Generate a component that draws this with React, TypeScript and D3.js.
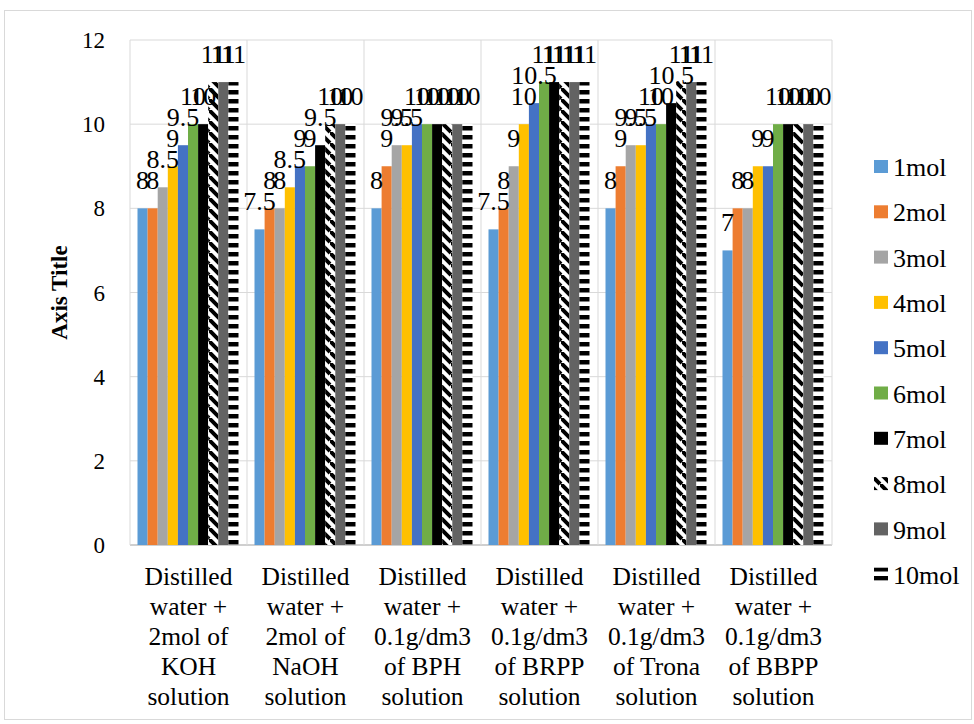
import React from "react";
import * as d3 from "d3";

const categories: string[][] = [
  ["Distilled", "water +", "2mol of", "KOH", "solution"],
  ["Distilled", "water +", "2mol of", "NaOH", "solution"],
  ["Distilled", "water +", "0.1g/dm3", "of BPH", "solution"],
  ["Distilled", "water +", "0.1g/dm3", "of BRPP", "solution"],
  ["Distilled", "water +", "0.1g/dm3", "of Trona", "solution"],
  ["Distilled", "water +", "0.1g/dm3", "of BBPP", "solution"],
];

const seriesNames = ["1mol", "2mol", "3mol", "4mol", "5mol", "6mol", "7mol", "8mol", "9mol", "10mol"];

const s1 = [8, 7.5, 8, 7.5, 8, 7];
const s2 = [8, 8, 9, 8, 9, 8];
const s3 = [8.5, 8, 9.5, 9, 9.5, 8];
const s4 = [9, 8.5, 9.5, 10, 9.5, 9];
const s5 = [9.5, 9, 10, 10.5, 10, 9];
const s6 = [10, 9, 10, 11, 10, 10];
const s7 = [10, 9.5, 10, 11, 10.5, 10];
const s8 = [11, 10, 10, 11, 11, 10];
const s9 = [11, 10, 10, 11, 11, 10];
const s10 = [11, 10, 10, 11, 11, 10];
const seriesValues = [s1, s2, s3, s4, s5, s6, s7, s8, s9, s10];

const yTicks = [0, 2, 4, 6, 8, 10, 12];

const fills = [
  "#5B9BD5",
  "#ED7D31",
  "#A5A5A5",
  "#FFC000",
  "#4472C4",
  "#70AD47",
  "#000000",
  "url(#diagPat)",
  "#636363",
  "url(#dashPat)",
];

const tstyle: React.CSSProperties = { fontFamily: `"Liberation Serif"` };

export default function App() {
  const left = 130, right = 832, top = 40, bottom = 545;
  const x0 = d3.scaleBand<number>().domain(d3.range(categories.length)).range([left, right]).padding(0);
  const gw = x0.bandwidth();
  const x1 = d3.scaleBand<number>().domain(d3.range(seriesNames.length)).range([7.5, gw - 8.5]).padding(0);
  const y = d3.scaleLinear().domain([0, 12]).range([bottom, top]);

  return (
    <svg width={974} height={724} fontFamily="Liberation Serif" style={{ position: "absolute", left: 0, top: 0, background: "#fff", fontFamily: `"Liberation Serif"` }}>
      <style>{`text, tspan { font-family: "Liberation Serif", "Times New Roman", Times !important; }`}</style>
      <defs>
        <pattern id="diagPat" patternUnits="userSpaceOnUse" width={11} height={11}>
          <rect width={11} height={11} fill="#fff" />
          <path d="M0,0 L11,11 M-11,0 L0,11 M0,-11 L11,0" stroke="#000" strokeWidth={4} />
        </pattern>
        <pattern id="dashPat" patternUnits="userSpaceOnUse" width={9} height={9}>
          <rect width={9} height={9} fill="#fff" />
          <rect y={0} width={9} height={4.5} fill="#000" />
        </pattern>
      </defs>
      <rect x={4.5} y={10.5} width={967} height={709} fill="#fff" stroke="#d9d9d9" />
      {yTicks.map((t) => (
        <line key={"g" + t} x1={left} x2={right} y1={y(t)} y2={y(t)} stroke={t === 0 ? "#bfbfbf" : "#d9d9d9"} strokeWidth={t === 0 ? 1.5 : 1} />
      ))}
      {d3.range(categories.length + 1).map((i) => (
        <line key={"v" + i} x1={left + i * gw} x2={left + i * gw} y1={top} y2={bottom} stroke="#d9d9d9" />
      ))}
      {yTicks.map((t) => (
        <text key={"t" + t} style={tstyle} x={105} y={y(t)} dy="0.35em" textAnchor="end" fontSize={23} fill="#000">
          {t}
        </text>
      ))}
      {seriesValues.map((vals, si) =>
        vals.map((v, ci) => (
          <rect
            key={`b${si}-${ci}`}
            x={(x0(ci) as number) + (x1(si) as number)}
            y={y(v)}
            width={x1.bandwidth()}
            height={y(0) - y(v)}
            fill={fills[si]}
          />
        ))
      )}
      {seriesValues.map((vals, si) =>
        vals.map((v, ci) => (
          <text
            key={`l${si}-${ci}`}
            style={tstyle}
            x={(x0(ci) as number) + (x1(si) as number) + x1.bandwidth() / 2}
            y={y(v) - 19}
            textAnchor="middle"
            fontSize={26}
            fill="#000"
          >
            {v}
          </text>
        ))
      )}
      {categories.map((lines, ci) => (
        <text key={"c" + ci} style={tstyle} textAnchor="middle" fontSize={25.5} fill="#000">
          {lines.map((ln, li) => (
            <tspan key={li} x={(x0(ci) as number) + gw / 2} y={585 + li * 30}>
              {ln}
            </tspan>
          ))}
        </text>
      ))}
      <text style={tstyle} transform={`translate(67,${(top + bottom) / 2}) rotate(-90)`} textAnchor="middle" fontSize={23} fontWeight="bold" fill="#000">
        Axis Title
      </text>
      {seriesNames.map((n, i) => {
        const cy = 167 + i * 45.3;
        return (
          <g key={"lg" + i}>
            <rect x={874} y={cy - 7} width={14} height={13} fill={fills[i]} />
            <text style={tstyle} x={893} y={cy} dy="0.35em" fontSize={26} fill="#000">
              {n}
            </text>
          </g>
        );
      })}
    </svg>
  );
}
